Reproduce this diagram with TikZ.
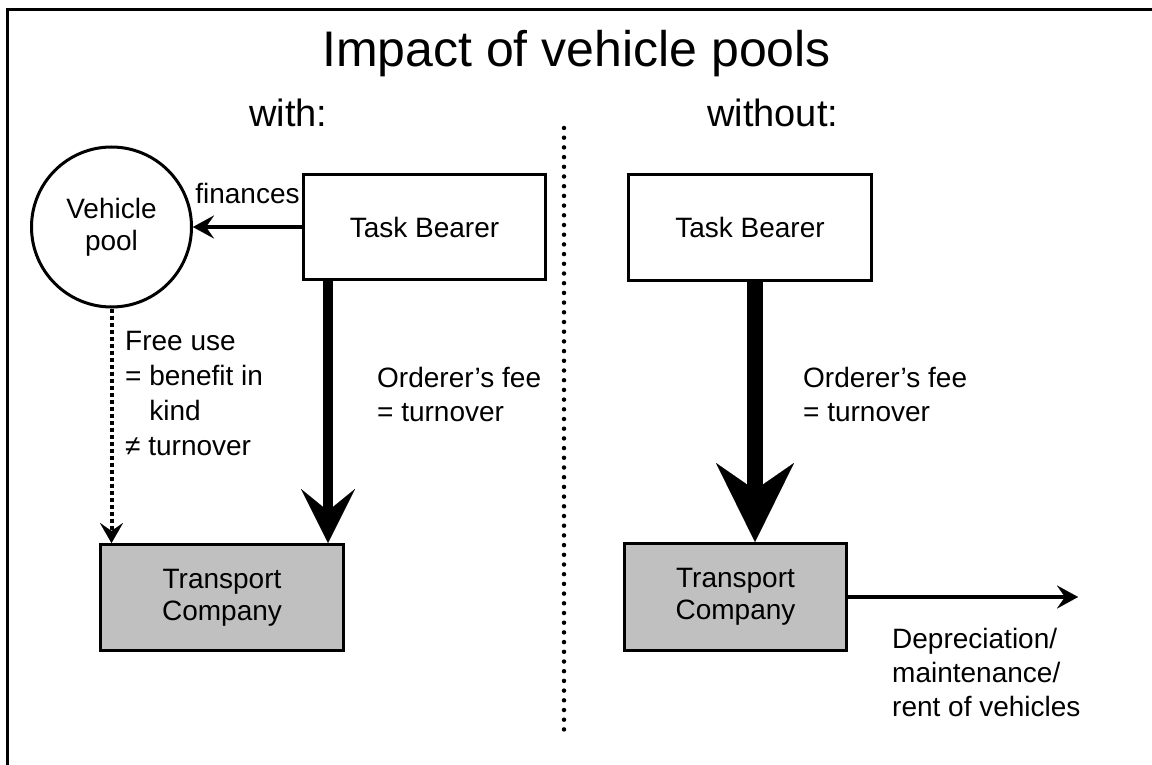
\documentclass[tikz,border=0pt]{standalone}
\usepackage{fontspec}
\setmainfont{Liberation Sans}
\usetikzlibrary{arrows.meta,calc}
\definecolor{boxgray}{HTML}{C0C0C0}
\begin{document}
\begin{tikzpicture}[x=1pt,y=-1pt,
  body/.style={font=\fontsize{28}{32}\selectfont},
  lbl/.style={font=\fontsize{28}{34}\selectfont, align=left, inner sep=0pt, anchor=north west},
  box/.style={draw, line width=3pt, rectangle, body, align=center, inner sep=0pt},
  pool/.style={draw, line width=3pt, circle, body, align=center, inner sep=0pt, minimum size=160pt},
  header/.style={font=\fontsize{38}{40}\selectfont, inner sep=0pt, anchor=base west},
  thinarrow/.style={line width=4pt, -{Stealth[length=21pt, width=23pt, inset=8pt, line width=0.01pt]}},
  dotarrow/.style={line width=4pt, dash pattern=on 4pt off 3pt, -{Stealth[length=20pt, width=23pt, inset=8pt, line width=0.01pt]}},
  fatarrow/.style={line width=10pt, -{Stealth[length=54pt, width=54pt, inset=22pt, line width=0.01pt]}},
  hugearrow/.style={line width=16pt, -{Stealth[length=79pt, width=78pt, inset=27pt, line width=0.01pt]}},
  divider/.style={line width=4.5pt, line cap=round, dash pattern=on 0pt off 9.7pt},
  frame/.style={line width=3pt, line join=miter}
]
\useasboundingbox (0,0) rectangle (1152,765);
% frame
\draw[frame] (7,765) -- (7,10) -- (1152,10);
% titles
\node[font=\fontsize{50}{55}\selectfont, inner sep=0pt, anchor=base] (title) at (576.5,67) {Impact of vehicle pools};
\node[header] (with) at (249,127) {with:};
\node[header] (without) at (707,127) {without:};
% divider
\coordinate (d1) at (564,128);
\coordinate (d2) at (564,732);
\draw[divider] (d1) -- (d2);
% nodes (left)
\node[pool] (vp) at (111.5,227) {Vehicle\\pool};
\node[box, minimum width=242pt, minimum height=105pt] (tb1) at (424.5,227) {Task Bearer};
\node[box, fill=boxgray, minimum width=243pt, minimum height=106pt] (tc1) at (222,597.5) {Transport\\Company};
% nodes (right)
\node[box, minimum width=243pt, minimum height=106pt] (tb2) at (750,227.5) {Task Bearer};
\node[box, fill=boxgray, minimum width=222pt, minimum height=107pt] (tc2) at (735.5,597) {Transport\\Company};
% connectors left
\draw[thinarrow] (tb1.west) -- node[body, inner sep=0pt, anchor=base, yshift=23pt] (fin) {finances} (vp.east);
\draw[dotarrow] (vp.south) -- (vp.south |- tc1.north);
\draw[fatarrow] ([xshift=26pt]tb1.south west) -- ([xshift=26pt]tb1.south west |- tc1.north);
% connectors right
\draw[hugearrow] ([xshift=128pt]tb2.south west) -- ([xshift=128pt]tb2.south west |- tc2.north);
\coordinate (out) at (1078,597);
\draw[thinarrow] (tc2.east) -- (out);
% labels
\node[lbl, font=\fontsize{28}{35}\selectfont] (free) at (125,331) {Free use\\= benefit in\\\phantom{= }kind\\≠ turnover};
\node[lbl] (fee1) at (377,367.5) {Orderer’s fee\\= turnover};
\node[lbl] (fee2) at (803,367.5) {Orderer’s fee\\= turnover};
\node[lbl] (dep) at (892,628.5) {Depreciation/\\maintenance/\\rent of vehicles};
\end{tikzpicture}
\end{document}
